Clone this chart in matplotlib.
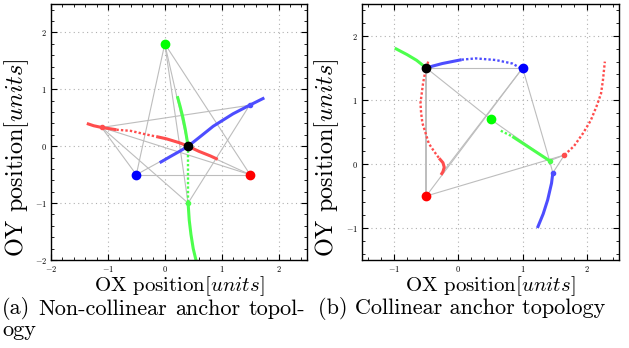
import matplotlib
matplotlib.use("Agg")
from matplotlib import pyplot as plt
from matplotlib.ticker import MultipleLocator

plt.rcParams['font.family'] = ['cmr10', 'DejaVu Serif']
plt.rcParams['mathtext.fontset'] = 'cm'
plt.rcParams['axes.formatter.use_mathtext'] = True

# ---- panel (a): non-collinear anchors ----
nodes_a = {
    'G': (0.0, 1.8), 'B': (-0.5, -0.5), 'R': (1.5, -0.5), 'K': (0.41, 0.0),
    'r': (-1.11, 0.33), 'b': (1.49, 0.72), 'g': (0.41, -1.0),
}
edges_a = [('G', 'B'), ('G', 'R'), ('B', 'R'), ('G', 'K'), ('B', 'K'), ('R', 'K'),
           ('G', 'g'), ('B', 'r'), ('R', 'r'), ('r', 'b'), ('b', 'g'), ('r', 'g')]

red_a_solid1_x = [-1.37, -1.25, -1.11, -0.85]
red_a_solid1_y = [0.40, 0.36, 0.33, 0.29]
red_a_dot_x = [-0.85, -0.6, -0.32, -0.15]
red_a_dot_y = [0.29, 0.27, 0.205, 0.17]
red_a_solid2_x = [-0.15, 0.03, 0.26, 0.41, 0.6, 0.8, 0.93]
red_a_solid2_y = [0.17, 0.13, 0.06, 0.0, -0.09, -0.17, -0.23]

blue_a_x = [-0.09, 0.1, 0.26, 0.41, 0.6, 0.85, 1.2, 1.49, 1.75]
blue_a_y = [-0.29, -0.18, -0.09, 0.0, 0.15, 0.35, 0.57, 0.72, 0.85]

green_a_solid1_x = [0.22, 0.27, 0.32, 0.36, 0.39, 0.41]
green_a_solid1_y = [0.88, 0.7, 0.5, 0.3, 0.12, 0.0]
green_a_dot_x = [0.41, 0.41, 0.41]
green_a_dot_y = [0.0, -0.5, -1.0]
green_a_solid2_x = [0.41, 0.43, 0.46, 0.5, 0.56]
green_a_solid2_y = [-1.0, -1.3, -1.55, -1.8, -2.05]

# ---- panel (b): collinear anchors ----
nodes_b = {
    'K': (-0.5, 1.5), 'B': (1.0, 1.5), 'G': (0.5, 0.7), 'R': (-0.5, -0.5),
    'r': (1.65, 0.14), 'g': (1.42, 0.05), 'b': (1.47, -0.14), 'e': (-0.26, -0.15),
}
edges_b = [('K', 'B'), ('K', 'R'), ('K', 'G'), ('G', 'g'), ('B', 'R'), ('B', 'e'),
           ('B', 'g'), ('R', 'r'), ('g', 'r'), ('g', 'b'), ('r', 'b')]

blue_b_solid_x = [-0.56, -0.4, -0.25, -0.1, 0.05]
blue_b_solid_y = [1.48, 1.53, 1.57, 1.60, 1.63]
blue_b_dot_x = [0.05, 0.27, 0.58, 0.84, 0.98]
blue_b_dot_y = [1.63, 1.65, 1.625, 1.57, 1.49]
blue_b_low_x = [1.47, 1.45, 1.39, 1.32, 1.23]
blue_b_low_y = [-0.14, -0.3, -0.56, -0.78, -1.0]

green_b_up_x = [-0.99, -0.8, -0.65, -0.5]
green_b_up_y = [1.81, 1.71, 1.62, 1.5]
green_b_dot_x = [0.66, 0.84]
green_b_dot_y = [0.52, 0.43]
green_b_solid_x = [0.84, 1.1, 1.42]
green_b_solid_y = [0.43, 0.26, 0.05]

red_b_dot_x = [-0.47, -0.52, -0.55, -0.59, -0.58, -0.56, -0.5, -0.46, -0.38, -0.3]
red_b_dot_y = [1.6, 1.42, 1.26, 0.95, 0.8, 0.64, 0.45, 0.32, 0.2, 0.09]
red_b_solid_x = [-0.3, -0.24, -0.22, -0.24, -0.27]
red_b_solid_y = [0.09, 0.02, -0.05, -0.12, -0.17]
red_b_right_x = [1.65, 1.8, 1.94, 2.06, 2.15, 2.22, 2.25, 2.28]
red_b_right_y = [0.14, 0.28, 0.48, 0.68, 0.9, 1.1, 1.31, 1.6]

caption_a_line1 = ['(a)', 'Non-collinear', 'anchor', 'topol-']
caption_a_line2 = 'ogy'
caption_b = '(b) Collinear anchor topology'

CURVE = {'r': '#ff4d4d', 'g': '#4dff4d', 'b': '#4d4dff'}
ANCHOR = {'R': '#ff0000', 'G': '#00ff00', 'B': '#0000ff', 'K': '#000000'}
DOTS = (0, (1.0, 0.9))
CAP_FS = 16


def style_axes(ax, xlim, ylim):
    ax.set_xlim(*xlim)
    ax.set_ylim(*ylim)
    ax.xaxis.set_major_locator(MultipleLocator(1))
    ax.yaxis.set_major_locator(MultipleLocator(1))
    ax.xaxis.set_minor_locator(MultipleLocator(0.2))
    ax.yaxis.set_minor_locator(MultipleLocator(0.2))
    ax.tick_params(which='both', direction='in', top=True, right=True, labelsize=6, pad=3)
    ax.tick_params(which='major', length=4, width=0.8)
    ax.tick_params(which='minor', length=2, width=0.6)
    ax.grid(True, which='major', color='#b0b0b0', linestyle=(0, (1, 3)), linewidth=0.8)
    ax.set_axisbelow(True)
    for s in ax.spines.values():
        s.set_linewidth(1.0)
    ax.set_xlabel('OX position$[units]$', fontsize=15, labelpad=0)
    ax.set_ylabel('OY position$[units]$', fontsize=17.5)
    ax.yaxis.set_label_coords(-0.08, 0.40)


def draw_edges(ax, nodes, edges):
    for a, b in edges:
        (x0, y0), (x1, y1) = nodes[a], nodes[b]
        lw = 1.4 if {a, b} == {'K', 'R'} and 'e' in nodes else 0.8
        ax.plot([x0, x1], [y0, y1], color='#bdbdbd', lw=lw, zorder=1)


def curve(ax, xs, ys, c, dotted=False):
    if dotted:
        ax.plot(xs, ys, color=CURVE[c], lw=1.7, linestyle=DOTS, zorder=2)
    else:
        ax.plot(xs, ys, color=CURVE[c], lw=2.2, solid_capstyle='butt', zorder=2)


def draw_nodes(ax, nodes):
    for name, (x, y) in nodes.items():
        if name in ANCHOR:
            ax.plot(x, y, 'o', color=ANCHOR[name], ms=6, zorder=4)
        elif name in CURVE:
            ax.plot(x, y, 'o', color=CURVE[name], ms=3, zorder=3)


def justified_line(fig, words, x0, x1, y):
    # place words so the line fills [x0, x1] like a justified LaTeX caption
    renderer = fig.canvas.get_renderer()
    texts = [fig.text(0, 1 - y / 348, w, fontsize=CAP_FS, va='center', ha='left')
             for w in words]
    widths = [t.get_window_extent(renderer).width for t in texts]
    gap = (x1 - x0 - sum(widths)) / (len(words) - 1)
    x = x0
    for t, w in zip(texts, widths):
        t.set_x(x / 629)
        x += w + gap


fig = plt.figure(figsize=(6.29, 3.48), dpi=100)
ax1 = fig.add_axes([51 / 629, 88 / 348, 256 / 629, 256 / 348])
ax2 = fig.add_axes([362 / 629, 88 / 348, 257 / 629, 256 / 348])

style_axes(ax1, (-2, 2.5), (-2, 2.5))
draw_edges(ax1, nodes_a, edges_a)
curve(ax1, red_a_solid1_x, red_a_solid1_y, 'r')
curve(ax1, red_a_dot_x, red_a_dot_y, 'r', dotted=True)
curve(ax1, red_a_solid2_x, red_a_solid2_y, 'r')
curve(ax1, blue_a_x, blue_a_y, 'b')
curve(ax1, green_a_solid1_x, green_a_solid1_y, 'g')
curve(ax1, green_a_dot_x, green_a_dot_y, 'g', dotted=True)
curve(ax1, green_a_solid2_x, green_a_solid2_y, 'g')
draw_nodes(ax1, nodes_a)

style_axes(ax2, (-1.5, 2.5), (-1.5, 2.5))
draw_edges(ax2, nodes_b, edges_b)
curve(ax2, blue_b_solid_x, blue_b_solid_y, 'b')
curve(ax2, blue_b_dot_x, blue_b_dot_y, 'b', dotted=True)
curve(ax2, blue_b_low_x, blue_b_low_y, 'b')
curve(ax2, green_b_up_x, green_b_up_y, 'g')
curve(ax2, green_b_dot_x, green_b_dot_y, 'g', dotted=True)
curve(ax2, green_b_solid_x, green_b_solid_y, 'g')
curve(ax2, red_b_dot_x, red_b_dot_y, 'r', dotted=True)
curve(ax2, red_b_solid_x, red_b_solid_y, 'r')
curve(ax2, red_b_right_x, red_b_right_y, 'r', dotted=True)
draw_nodes(ax2, {k: v for k, v in nodes_b.items() if k != 'e'})

justified_line(fig, caption_a_line1, 2, 305, 309)
fig.text(2 / 629, 1 - 330 / 348, caption_a_line2, fontsize=CAP_FS, va='center', ha='left')
fig.text(318 / 629, 1 - 309 / 348, caption_b, fontsize=CAP_FS, va='center', ha='left')

fig.savefig('out.png', dpi=100)
